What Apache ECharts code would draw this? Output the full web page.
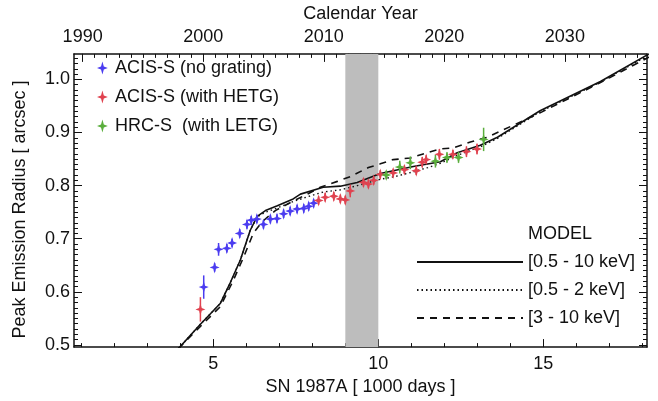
<!DOCTYPE html>
<html>
<head>
<meta charset="utf-8">
<script src="https://cdn.jsdelivr.net/npm/echarts@6/dist/echarts.min.js"></script>
<style>
html,body{margin:0;padding:0;background:#fff;}
#chart{width:658px;height:401px;}
</style>
</head>
<body>
<div id="chart"></div>
<script>
// ---------- data ----------
// [days (1000), radius (arcsec), error]
const acisNoGrating = [
  [4.71,0.609,0.022],[5.04,0.646,0.008],[5.16,0.680,0.012],[5.41,0.682,0.008],
  [5.57,0.692,0.008],[5.80,0.710,0.008],[6.02,0.727,0.008],[6.15,0.735,0.008],
  [6.32,0.737,0.008],[6.52,0.727,0.008],[6.73,0.737,0.008],[6.93,0.738,0.008],
  [7.13,0.747,0.008],[7.33,0.752,0.008],[7.54,0.756,0.008],[7.74,0.757,0.008],
  [7.89,0.761,0.008],[8.04,0.767,0.008]
];
const acisHETG = [
  [4.61,0.567,0.023],[8.19,0.772,0.008],[8.39,0.778,0.008],[8.65,0.780,0.008],
  [8.85,0.775,0.008],[9.00,0.773,0.008],[9.15,0.790,0.012],[9.55,0.806,0.008],
  [9.70,0.803,0.008],[9.86,0.810,0.008],[10.06,0.821,0.008],[10.45,0.824,0.008],
  [10.79,0.830,0.008],[11.15,0.828,0.008],[11.33,0.844,0.010],[11.45,0.849,0.008],
  [11.85,0.859,0.010],[12.26,0.859,0.008],[12.67,0.864,0.010],[12.99,0.869,0.010]
];
const hrcLETG = [
  [10.24,0.820,0.008],[10.65,0.835,0.012],[10.97,0.843,0.012],[11.73,0.846,0.012],
  [12.08,0.853,0.010],[12.43,0.853,0.010],[13.19,0.887,0.022]
];
// model curves [days, radius]
const modelFull = [
  [3.94,0.493],[4.61,0.539],[5.21,0.578],[5.52,0.618],[5.82,0.660],[6.12,0.716],
  [6.33,0.742],[6.58,0.753],[6.94,0.762],[7.42,0.775],[7.64,0.784],[8.33,0.797],
  [8.85,0.799],[9.36,0.806],[10.06,0.823],[11.06,0.836],[11.88,0.845],[12.39,0.862],
  [13.09,0.876],[13.61,0.891],[14.90,0.941],[16.73,0.996],[18.20,1.048]
];
const modelSoft = [
  [3.94,0.493],[4.61,0.539],[5.21,0.578],[5.52,0.618],[5.82,0.660],[6.12,0.716],
  [6.33,0.741],[6.58,0.750],[6.94,0.758],[7.42,0.770],[7.85,0.779],[8.33,0.788],
  [8.85,0.792],[9.36,0.800],[10.06,0.812],[10.50,0.817],[11.06,0.826],[11.50,0.834],
  [11.88,0.842],[12.39,0.857],[13.09,0.873],[13.61,0.889],[14.90,0.939],[16.73,0.995],
  [18.20,1.046]
];
const modelHard = [
  [3.94,0.493],[4.61,0.535],[5.21,0.572],[5.58,0.618],[5.91,0.664],[6.21,0.710],
  [6.48,0.732],[6.88,0.753],[7.42,0.771],[7.85,0.784],[8.24,0.797],[8.76,0.808],
  [9.15,0.817],[9.70,0.834],[10.06,0.841],[10.45,0.849],[10.97,0.852],[11.48,0.862],
  [11.88,0.869],[12.27,0.871],[12.79,0.882],[13.30,0.891],[14.90,0.937],[16.73,0.994],
  [18.20,1.042]
];
const bandStart = 9.0, bandEnd = 10.0;

const daysMin = 0.78, daysMax = 18.14;
const radMin = 0.496, radMax = 1.048;
const explosionYear = 1987.148;
const toYear = d => explosionYear + d * 1000 / 365.25;

const xLabelTicks = [5, 10, 15];
const xMinorTicks = [1,2,3,4,5,6,7,8,9,10,11,12,13,14,15,16,17,18];
const yearLabelTicks = [1990, 2000, 2010, 2020, 2030];
const yLabelTicks = [0.5, 0.6, 0.7, 0.8, 0.9, 1.0];

const yearMinorTicks = [];
for (let y = 1990; y <= 2036; y++) yearMinorTicks.push(y);
const yMinorTicks = [];
for (let i = 50; i <= 104; i++) yMinorTicks.push(i / 100);

const legendData = ['ACIS-S (no grating)', 'ACIS-S (with HETG)', 'HRC-S  (with LETG)'];
const modelNames = ['[0.5 - 10 keV]', '[0.5 - 2 keV]', '[3 - 10 keV]'];
const colors = ['#4b3cf0', '#e0424f', '#5aae3c'];

// ---------- chart ----------
const FONT = 'Liberation Sans';
const FS = 18;
const star = 'path://M5,0 L6.3,4.6 L10,6 L6.3,7.4 L5,12 L3.7,7.4 L0,6 L3.7,4.6 Z';
const chart = echarts.init(document.getElementById('chart'), null, {renderer: 'canvas'});

function minorAxis(pos, min, max, ticks, len) {
  return {
    type: 'value', position: pos, min: min, max: max,
    axisLine: {show: false}, axisLabel: {show: false}, splitLine: {show: false},
    axisTick: {show: true, inside: true, length: len, customValues: ticks,
      lineStyle: {color: '#111', width: 1}}
  };
}
const axisLineStyle = {show: true, onZero: false, lineStyle: {color: '#111', width: 1.5}};

function errSeries(name, data, color) {
  return {
    type: 'custom', name: name, data: data, z: 4, silent: true,
    renderItem: function (params, api) {
      const x = api.value(0), v = api.value(1), e = api.value(2);
      const p1 = api.coord([x, v - e]);
      const p2 = api.coord([x, v + e]);
      return {type: 'line', shape: {x1: p1[0], y1: p1[1], x2: p2[0], y2: p2[1]},
        style: {stroke: color, lineWidth: 1.5}};
    }
  };
}

const option = {
  animation: false,
  backgroundColor: '#fff',
  textStyle: {fontFamily: FONT},
  grid: {left: 74, right: 11, top: 47, bottom: 53, containLabel: false},
  xAxis: [
    {
      type: 'value', position: 'bottom', min: daysMin, max: daysMax,
      name: 'SN 1987A [ 1000 days ]', nameLocation: 'middle', nameGap: 28,
      nameTextStyle: {fontSize: FS, color: '#111', fontFamily: FONT},
      axisLine: axisLineStyle, splitLine: {show: false},
      axisTick: {show: true, inside: true, length: 8, customValues: xLabelTicks,
        lineStyle: {color: '#111', width: 1}},
      axisLabel: {show: true, customValues: xLabelTicks, fontSize: FS, color: '#111',
        margin: 8, fontFamily: FONT}
    },
    minorAxis('bottom', daysMin, daysMax, xMinorTicks, 4),
    {
      type: 'value', position: 'top', min: toYear(daysMin), max: toYear(daysMax),
      name: 'Calendar Year', nameLocation: 'middle', nameGap: 26,
      nameTextStyle: {fontSize: FS, color: '#111', fontFamily: FONT},
      axisLine: axisLineStyle, splitLine: {show: false},
      axisTick: {show: true, inside: true, length: 8, customValues: yearLabelTicks,
        lineStyle: {color: '#111', width: 1}},
      axisLabel: {show: true, customValues: yearLabelTicks, fontSize: FS, color: '#111',
        margin: 8, fontFamily: FONT, formatter: v => String(Math.round(v))}
    },
    minorAxis('top', toYear(daysMin), toYear(daysMax), yearMinorTicks, 4)
  ],
  yAxis: [
    {
      type: 'value', position: 'left', min: radMin, max: radMax,
      name: 'Peak Emission Radius [ arcsec ]', nameLocation: 'middle', nameGap: 45,
      nameTextStyle: {fontSize: FS, color: '#111', fontFamily: FONT, padding: [0, 18, 0, 0]},
      axisLine: axisLineStyle, splitLine: {show: false},
      axisTick: {show: true, inside: true, length: 8, customValues: yLabelTicks,
        lineStyle: {color: '#111', width: 1}},
      axisLabel: {show: true, customValues: yLabelTicks, fontSize: FS, color: '#111',
        margin: 4, fontFamily: FONT, formatter: v => v.toFixed(1)}
    },
    minorAxis('left', radMin, radMax, yMinorTicks, 4),
    {
      type: 'value', position: 'right', min: radMin, max: radMax,
      axisLine: axisLineStyle, splitLine: {show: false},
      axisTick: {show: true, inside: true, length: 8, customValues: yLabelTicks,
        lineStyle: {color: '#111', width: 1}},
      axisLabel: {show: false}
    },
    minorAxis('right', radMin, radMax, yMinorTicks, 4)
  ],
  legend: [
    {
      data: legendData, orient: 'vertical', left: 92, top: 54, itemGap: 11,
      icon: star, itemWidth: 11, itemHeight: 13, selectedMode: false,
      textStyle: {fontSize: FS, color: '#111', fontFamily: FONT, padding: [0, 0, 0, 2]}
    },
    {
      data: modelNames, orient: 'vertical', left: 411, top: 248, itemGap: 10,
      itemWidth: 106, itemHeight: 14, selectedMode: false,
      itemStyle: {opacity: 0, color: 'rgba(0,0,0,0)', borderWidth: 0},
      textStyle: {fontSize: FS, color: '#111', fontFamily: FONT, padding: [0, 0, 0, 0]}
    }
  ],
  graphic: [
    {type: 'text', left: 528, top: 225,
      style: {text: 'MODEL', fontSize: FS, fill: '#111', fontFamily: FONT}}
  ],
  series: [
    {
      type: 'line', name: 'band', data: [], z: 1, silent: true,
      markArea: {silent: true, itemStyle: {color: '#bdbdbd'},
        data: [[{xAxis: bandStart}, {xAxis: bandEnd}]]}
    },
    {type: 'line', name: modelNames[0], data: modelFull, symbol: 'none', z: 3,
      lineStyle: {color: '#111', width: 1.6, type: 'solid'}, itemStyle: {color: '#111'}},
    {type: 'line', name: modelNames[1], data: modelSoft, symbol: 'none', z: 3,
      lineStyle: {color: '#111', width: 1.4, type: [1.5, 3]}, itemStyle: {color: '#111'}},
    {type: 'line', name: modelNames[2], data: modelHard, symbol: 'none', z: 3,
      lineStyle: {color: '#111', width: 1.6, type: [7, 6]}, itemStyle: {color: '#111'}},
    errSeries('errBlue', acisNoGrating, colors[0]),
    errSeries('errRed', acisHETG, colors[1]),
    errSeries('errGreen', hrcLETG, colors[2]),
    {type: 'scatter', name: legendData[0], data: acisNoGrating, symbol: star,
      symbolSize: [10, 12], z: 5, itemStyle: {color: colors[0], opacity: 1}},
    {type: 'scatter', name: legendData[1], data: acisHETG, symbol: star,
      symbolSize: [10, 12], z: 5, itemStyle: {color: colors[1], opacity: 1}},
    {type: 'scatter', name: legendData[2], data: hrcLETG, symbol: star,
      symbolSize: [10, 12], z: 5, itemStyle: {color: colors[2], opacity: 1}}
  ]
};
chart.setOption(option);
</script>
</body>
</html>
